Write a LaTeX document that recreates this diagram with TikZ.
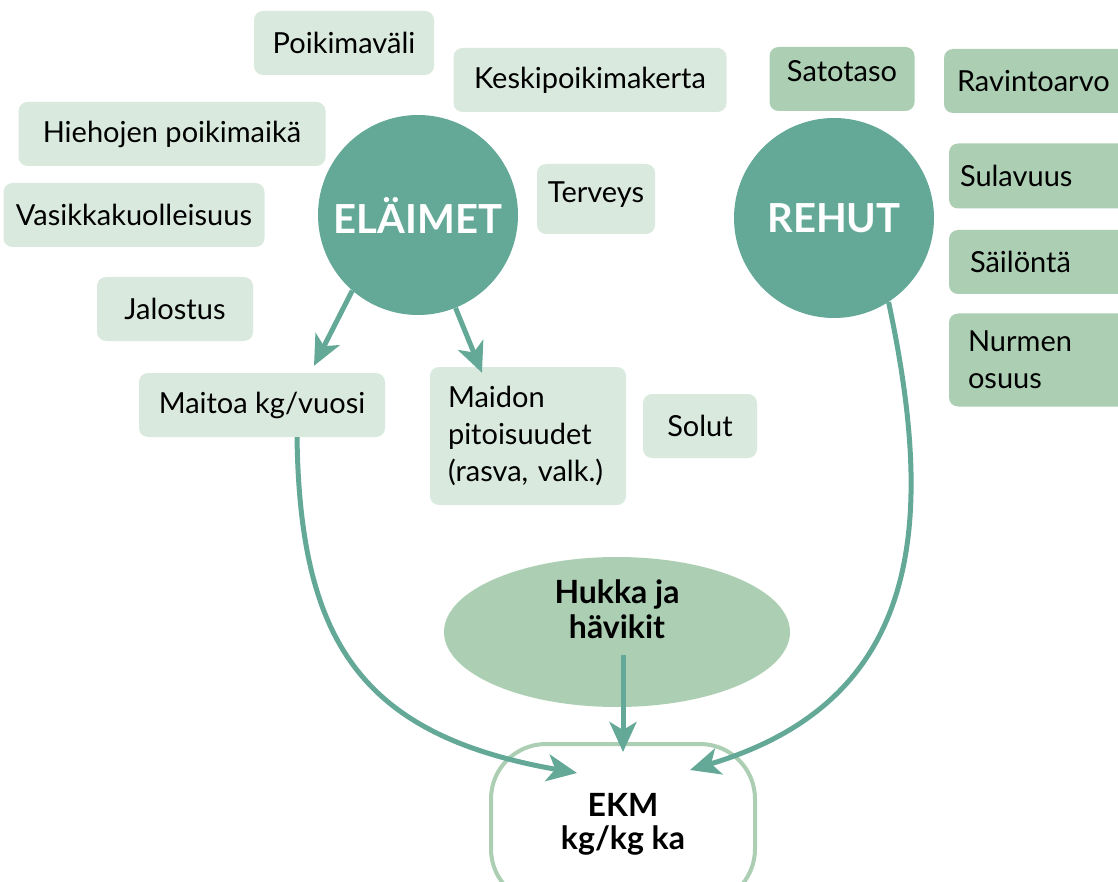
\documentclass[tikz,border=0pt]{standalone}
\usepackage{fontspec}
\setmainfont{Lato}
\usepackage{tikz}
\usetikzlibrary{shapes.geometric,arrows.meta}
\definecolor{paleg}{HTML}{D9E9DE}
\definecolor{sageg}{HTML}{ACCFB4}
\definecolor{hubg}{HTML}{64A997}

\begin{document}
\begin{tikzpicture}[x=1pt,y=-1pt,
  lbox/.style={fill=paleg, rounded corners=9pt, inner sep=0pt, minimum height=64pt, font=\fontsize{29}{37}\selectfont},
  dbox/.style={lbox, fill=sageg},
  hub/.style={circle, fill=hubg, minimum size=200pt, inner sep=0pt, text=white, font=\fontsize{40}{44}\selectfont\bfseries},
  flow/.style={line width=5pt, draw=hubg, -{Stealth[length=30pt,width=27pt,inset=8pt]}}]
\useasboundingbox (0,0) rectangle (1118,882);
\clip (0,0) rectangle (1118,882);

\node[lbox, minimum width=180pt] (poik) at (344,43) {Poikimaväli};
\node[lbox, minimum width=273pt] (kesk) at (590,80) {Keskipoikimakerta};
\node[lbox, minimum width=307pt] (hieho) at (172,134) {Hiehojen poikimaikä};
\node[lbox, minimum width=261pt] (vasik) at (134,215) {Vasikkakuolleisuus};
\node[lbox, minimum width=156pt] (jalo) at (175,309) {Jalostus};
\node[lbox, minimum width=118pt, minimum height=70pt, text depth=14pt] (terv) at (596,199) {Terveys};

\node[hub] (elaimet) at (418,215) {ELÄIMET};
\node[hub] (rehut) at (834,218) {REHUT};

\node[dbox, minimum width=145pt, text depth=16pt] (sato) at (842,79) {Satotaso};
\node[dbox, minimum width=186pt, text width=160pt, align=left] (ravinto) at (1037,81) {Ravintoarvo};
\node[dbox, minimum width=182pt, minimum height=65pt, text width=160pt, align=left] (sula) at (1040,176) {Sulavuus};
\node[dbox, minimum width=182pt, text width=140pt, align=left] (sailo) at (1040,262) {Säilöntä};
\node[dbox, minimum width=182pt, minimum height=93pt, text width=144pt, align=left] (nurmi) at (1040,360) {Nurmen\\osuus};

\node[lbox, minimum width=246pt] (maitoa) at (262,405) {Maitoa kg/vuosi};
\node[lbox, minimum width=196pt, minimum height=138pt, text width=160pt, align=left] (maidon) at (528,436) {Maidon\\pitoisuudet\\(rasva, valk.)};
\node[lbox, minimum width=114pt] (solut) at (700,426) {Solut};

\node[ellipse, fill=sageg, minimum width=346pt, minimum height=150pt, inner sep=0pt, align=center, text depth=46pt,
  font=\fontsize{32}{35}\selectfont\bfseries] (hukka) at (617,632) {Hukka ja\\hävikit};
\node[draw=sageg, line width=4pt, fill=white, rounded corners=55pt, minimum width=264pt, minimum height=160pt,
  align=center, font=\fontsize{32}{33}\selectfont\bfseries] (ekm) at (623,824) {EKM\\kg/kg ka};

\draw[flow] (elaimet.229) -- ([xshift=52pt,yshift=7pt]maitoa.north);
\draw[flow] (elaimet.292) -- ([xshift=-46pt,yshift=-6pt]maidon.north);
\draw[flow] ([xshift=35pt]maitoa.south) .. controls (300,640) and (360,735) .. ([shift={(-46,-51)}]ekm.center);
\draw[flow] (rehut.303) .. controls (935,520) and (925,700) .. ([shift={(67,-54)}]ekm.center);
\draw[flow] ([xshift=6pt,yshift=-23pt]hukka.center) -- ([yshift=-10pt]ekm.north);

\end{tikzpicture}
\end{document}
